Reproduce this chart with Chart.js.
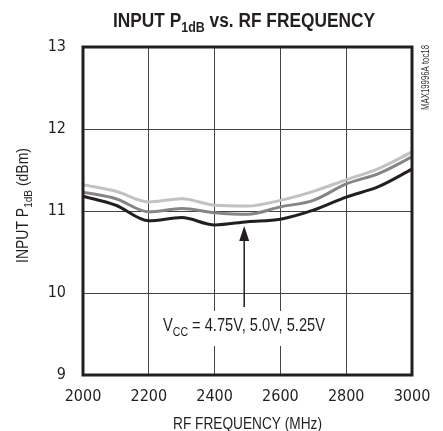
<!DOCTYPE html>
<html>
<head>
<meta charset="utf-8">
<script src="https://cdn.jsdelivr.net/npm/chart.js@4"></script>
<style>
  html, body { margin: 0; padding: 0; background: #fff; }
  #wrap { width: 443px; height: 431px; position: relative; }
</style>
</head>
<body>
<div id="wrap"><canvas id="p1dbChart"></canvas></div>
<script>
const freqs = [2000, 2100, 2200, 2300, 2400, 2500, 2600, 2700, 2800, 2900, 3000];
const vcc525 = [11.32, 11.24, 11.11, 11.15, 11.07, 11.06, 11.13, 11.24, 11.38, 11.52, 11.72];
const vcc500 = [11.23, 11.15, 10.99, 11.03, 10.98, 10.96, 11.05, 11.13, 11.33, 11.46, 11.66];
const vcc475 = [11.18, 11.07, 10.88, 10.92, 10.83, 10.87, 10.90, 11.01, 11.17, 11.30, 11.51];
const xTicks = [2000, 2200, 2400, 2600, 2800, 3000];
const yTicks = [9, 10, 11, 12, 13];

const FONT = "'Liberation Sans', Arial, sans-serif";

// pick a narrow font for the tick labels if there is one
const probe = document.createElement('canvas').getContext('2d');
probe.font = "18px 'Liberation Sans Narrow', monospace";
const wNarrow = probe.measureText('2000 abc').width;
probe.font = '18px monospace';
const hasNarrow = wNarrow !== probe.measureText('2000 abc').width;
const TICK_FONT = hasNarrow ? { family: "'Liberation Sans Narrow'", size: 18 }
                            : { family: "'DejaVu Sans Condensed'", size: 16 };

function pts(ys) {
  return freqs.map((f, i) => ({ x: f, y: ys[i] }));
}

// text pieces [[text, isSub], ...] squeezed to a given width (condensed look)
function drawRich(ctx, parts, x, y, size, bold, width, align) {
  const fontOf = p => (bold ? 'bold ' : '') + (p[1] ? size * 0.72 : size) + 'px ' + FONT;
  const w = parts.map(p => { ctx.font = fontOf(p); return ctx.measureText(p[0]).width; });
  const total = w.reduce((a, b) => a + b, 0);
  const k = width / total;
  ctx.save();
  ctx.translate(align === 'center' ? x - width / 2 : x, y);
  ctx.scale(k, 1);
  ctx.textAlign = 'left';
  let cx = 0;
  parts.forEach((p, i) => {
    ctx.font = fontOf(p);
    ctx.fillText(p[0], cx, p[1] ? size * 0.25 : 0);
    cx += w[i];
  });
  ctx.restore();
}

const decor = {
  id: 'decor',
  afterDraw(chart) {
    const ctx = chart.ctx;
    const a = chart.chartArea;
    const xs = chart.scales.x, ys = chart.scales.y;
    ctx.save();
    // frame
    ctx.strokeStyle = '#231f20';
    ctx.lineWidth = 3;
    ctx.strokeRect(a.left, a.top, a.right - a.left, a.bottom - a.top);

    ctx.fillStyle = '#231f20';
    ctx.textBaseline = 'alphabetic';
    // title
    drawRich(ctx, [['INPUT P', false], ['1dB', true], [' vs. RF FREQUENCY', false]], 244, 27, 20, true, 262, 'center');

    // x axis title
    drawRich(ctx, [['RF FREQUENCY (MHz)', false]], 247.5, 429, 16, false, 149, 'center');

    // y axis title
    ctx.save();
    ctx.translate(28, 205.5);
    ctx.rotate(-Math.PI / 2);
    drawRich(ctx, [['INPUT P', false], ['1dB', true], [' (dBm)', false]], 0, 0, 16, false, 115, 'center');
    ctx.restore();

    // side code
    ctx.save();
    ctx.translate(429, 77.5);
    ctx.rotate(-Math.PI / 2);
    ctx.fillStyle = '#333';
    drawRich(ctx, [['MAX19996A toc18', false]], 0, 0, 11, false, 65, 'center');
    ctx.restore();

    // arrow
    const ax = xs.getPixelForValue(2490);
    const tip = ys.getPixelForValue(10.83) + 1;
    const base = ys.getPixelForValue(9.83);
    ctx.strokeStyle = '#231f20';
    ctx.lineWidth = 1.5;
    ctx.beginPath();
    ctx.moveTo(ax, tip + 10);
    ctx.lineTo(ax, base);
    ctx.stroke();
    ctx.beginPath();
    ctx.moveTo(ax, tip);
    ctx.lineTo(ax - 5, tip + 15);
    ctx.lineTo(ax + 5, tip + 15);
    ctx.closePath();
    ctx.fill();

    // annotation label on a white patch
    ctx.fillStyle = '#fff';
    ctx.fillRect(158, 311, 172, 35);
    ctx.fillStyle = '#231f20';
    drawRich(ctx, [['V', false], ['CC', true], [' = 4.75V, 5.0V, 5.25V', false]], 163, 331, 19, false, 162, 'left');
    ctx.restore();
  }
};

const line = (label, ys, color) => ({
  label, data: pts(ys), borderColor: color, backgroundColor: color,
  borderWidth: 3, pointRadius: 0, tension: 0.4, cubicInterpolationMode: 'monotone', fill: false
});

new Chart(document.getElementById('p1dbChart'), {
  type: 'line',
  data: {
    datasets: [
      line('5.25V', vcc525, '#c2c2c2'),
      line('5.0V', vcc500, '#858585'),
      line('4.75V', vcc475, '#231f20')
    ]
  },
  options: {
    responsive: true,
    maintainAspectRatio: false,
    animation: false,
    layout: { padding: { top: 47, right: 31, left: 0, bottom: 0 } },
    plugins: { legend: { display: false }, tooltip: { enabled: false } },
    scales: {
      x: {
        type: 'linear', min: 2000, max: 3000,
        afterBuildTicks: s => { s.ticks = xTicks.map(v => ({ value: v })); },
        afterFit: s => { s.height = 56; },
        grid: { color: '#444', lineWidth: 1, drawTicks: false },
        border: { display: false },
        ticks: { color: '#231f20', padding: 12, font: TICK_FONT, maxRotation: 0,
                 callback: v => String(v) }
      },
      y: {
        min: 9, max: 13,
        afterBuildTicks: s => { s.ticks = yTicks.map(v => ({ value: v })); },
        afterFit: s => { s.width = 83; },
        grid: { color: '#444', lineWidth: 1, drawTicks: false },
        border: { display: false },
        ticks: { color: '#231f20', padding: 17, font: TICK_FONT,
                 callback: v => String(v) }
      }
    }
  },
  plugins: [decor]
});
</script>
</body>
</html>
